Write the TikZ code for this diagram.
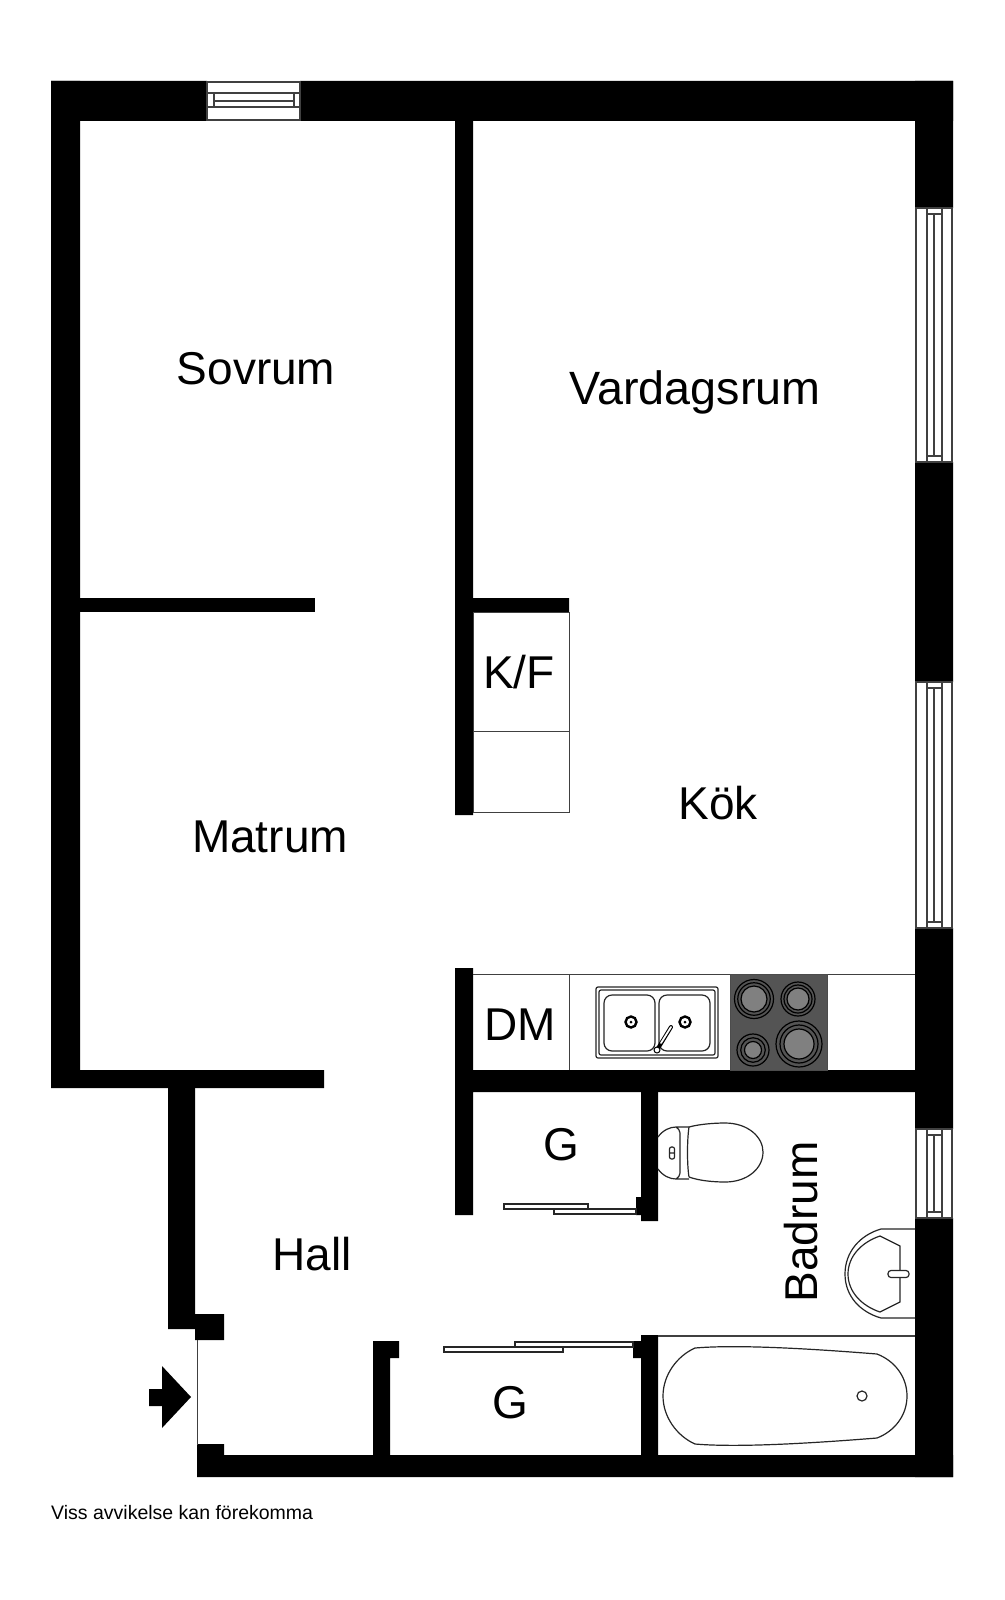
\documentclass[tikz,border=0pt]{standalone}
\usepackage{fontspec}
\setmainfont{Liberation Sans}
\tikzset{
  wall/.style={fill=black},
  fixture/.style={draw=black!85,line width=1.2pt},
  thin line/.style={draw=black!75,line width=1.3pt},
  unit line/.style={draw=black!75,line width=1pt},
  roomname/.style={anchor=base,inner sep=0pt,font=\fontsize{46}{46}\selectfont},
}
\begin{document}
\begin{tikzpicture}[x=1pt,y=-1pt]
\useasboundingbox[fill=white] (0,0) rectangle (1004,1600);
% walls
\scope[wall]
  \fill (51,81) rectangle (207,121) (300,81) rectangle (953,121);
  \fill (51,81) rectangle (80,1088) (80,1070) rectangle (324,1088);
  \fill (80,598) rectangle (315,612);
  \fill (455,120) rectangle (473,815) (473,598) rectangle (569,612);
  \fill (915,81) rectangle (953,208) (915,462) rectangle (953,682);
  \fill (915,928) rectangle (953,1129) (915,1218) rectangle (953,1477);
  \fill (455,968) rectangle (473,1215) (473,1070) rectangle (915,1092);
  \fill (641,1092) rectangle (658,1221) (636,1197) rectangle (641,1215);
  \fill (168,1088) rectangle (195,1329) (195,1314) rectangle (224,1340);
  \fill (197,1444) rectangle (224,1455) (197,1455) rectangle (953,1477);
  \fill (373,1341) rectangle (390,1455) (390,1341) rectangle (399,1358);
  \fill (641,1335) rectangle (658,1455) (633,1341) rectangle (641,1358);
\endscope
% entrance
\draw[unit line] (197,1340) -- (197,1445);
\fill (149,1389) -- (162,1389) -- (162,1366) -- (191,1397) -- (162,1428) -- (162,1406) -- (149,1406) -- cycle;
% windows
\draw[thin line] (207,82) rectangle (300,120) (207,93) -- (300,93) (207,107) -- (300,107)
      (214,93) -- (214,107) (294,93) -- (294,107) (214,101) -- (294,101);
\foreach \wtop/\wend in {208/462,682/928,1129/1218}{
  \pgfmathsetmacro{\barA}{\wtop+6}
  \pgfmathsetmacro{\barB}{\wend-6}
  \draw[thin line] (916,\wtop) rectangle (952,\wend) (927,\wtop) -- (927,\wend) (942,\wtop) -- (942,\wend)
        (934,\barA) -- (934,\barB) (927,\barA) -- (942,\barA) (927,\barB) -- (942,\barB);
}
% fridge and counter
\draw[unit line] (473,612) rectangle (569,812) (473,731) -- (569,731);
\draw[unit line] (473,974) -- (915,974) (569,974) -- (569,1070);
\filldraw[draw=black!70,fill=black!67,line width=1pt] (730,974) rectangle (827,1070);
\foreach \cx/\cy/\rout/\rin in {754/999/19.5/13,798/999/17/11,753/1050/16/8.5,799/1044/23/15}{
  \draw[black,line width=1.2pt,fill=black!67] (\cx,\cy) circle (\rout);
  \draw[black,line width=1.2pt] (\cx,\cy) circle ({(\rout+\rin)/2});
  \draw[black,line width=1.2pt,fill=black!50] (\cx,\cy) circle (\rin);
}
% sink
\draw[fixture,rounded corners=2pt] (596,987) rectangle (718,1058) (599,990) rectangle (715,1055);
\draw[fixture,rounded corners=8pt] (604,995) rectangle (655,1051) (659,995) rectangle (710,1051);
\foreach \cx in {631,685}{
  \draw[black,line width=2.4pt] (\cx,1022) circle (5.5);
  \fill (\cx,1022) circle (1.5);
}
\draw[black,line width=4pt,line cap=round] (657,1050) -- (671,1027);
\draw[white,line width=1.8pt,line cap=round] (661,1043) -- (671,1027);
\filldraw[draw=black,fill=white,line width=1pt] (657,1050) circle (3);
% toilet
\draw[fixture] (658,1137) .. controls (663,1130) and (670,1127) .. (676,1127) -- (689,1127)
      (658,1169) .. controls (663,1176) and (670,1179) .. (676,1179) -- (689,1179)
      (676,1127) .. controls (681,1130) and (680,1134) .. (680,1140) -- (680,1166) .. controls (680,1172) and (681,1176) .. (676,1179);
\draw[fixture] (689,1127) .. controls (700,1124) and (715,1123) .. (725,1123)
      .. controls (748,1123) and (763,1137) .. (763,1152) .. controls (763,1168) and (748,1182) .. (725,1182)
      .. controls (715,1182) and (700,1181) .. (689,1177) (689,1127) .. controls (687,1140) and (687,1165) .. (689,1177);
\draw[fixture,rounded corners=2pt] (669.5,1147) rectangle (674.5,1159) (669.5,1153) -- (674.5,1153);
% wash basin
\draw[fixture] (915,1229) -- (881,1229) .. controls (860,1235) and (845,1252) .. (845,1274)
      .. controls (845,1296) and (860,1312) .. (881,1318) -- (915,1318);
\draw[fixture] (880,1236) -- (900,1246) -- (900,1302) -- (880,1312) .. controls (862,1306) and (848,1292) .. (848,1274)
      .. controls (848,1256) and (862,1242) .. (880,1236) -- cycle;
\draw[fixture,fill=white,rounded corners=3pt] (888,1270.5) rectangle (909,1277.5);
% bath
\draw[thin line] (658,1336) -- (915,1336);
\draw[fixture] (695,1348) .. controls (730,1345) and (790,1347) .. (877,1354) .. controls (895,1361) and (907,1377) .. (907,1396)
      .. controls (907,1415) and (895,1431) .. (877,1438) .. controls (790,1445) and (730,1447) .. (695,1444)
      .. controls (677,1436) and (663,1417) .. (663,1396) .. controls (663,1375) and (677,1356) .. (695,1348) -- cycle;
\draw[fixture] (862,1396) circle (5);
% sliding doors
\draw[fixture,fill=white] (504,1204) rectangle (588,1209) (554,1209) rectangle (636,1214);
\draw[fixture,fill=white] (515,1342) rectangle (633,1347) (444,1347) rectangle (563,1352);
% texts
\node[roomname] (sovrum) at (256,384) {Sovrum};
\node[roomname] (vardagsrum) at (695,404) {\fontsize{46.7}{46}\selectfont Vardagsrum};
\node[roomname] (kf) at (519,688) {K/F};
\node[roomname] (kok) at (718,819) {Kök};
\node[roomname] (matrum) at (270,852) {Matrum};
\node[roomname] (dm) at (520,1040) {DM};
\node[roomname] (gtop) at (561,1160) {G};
\node[roomname] (hall) at (312,1270) {Hall};
\node[roomname] (gbottom) at (510,1418) {G};
\node[roomname,rotate=90] (badrum) at (817,1222) {Badrum};
\node[anchor=base west,inner sep=0pt,font=\fontsize{19.5}{20}\selectfont] (note) at (51,1519) {Viss avvikelse kan förekomma};
\end{tikzpicture}
\end{document}
